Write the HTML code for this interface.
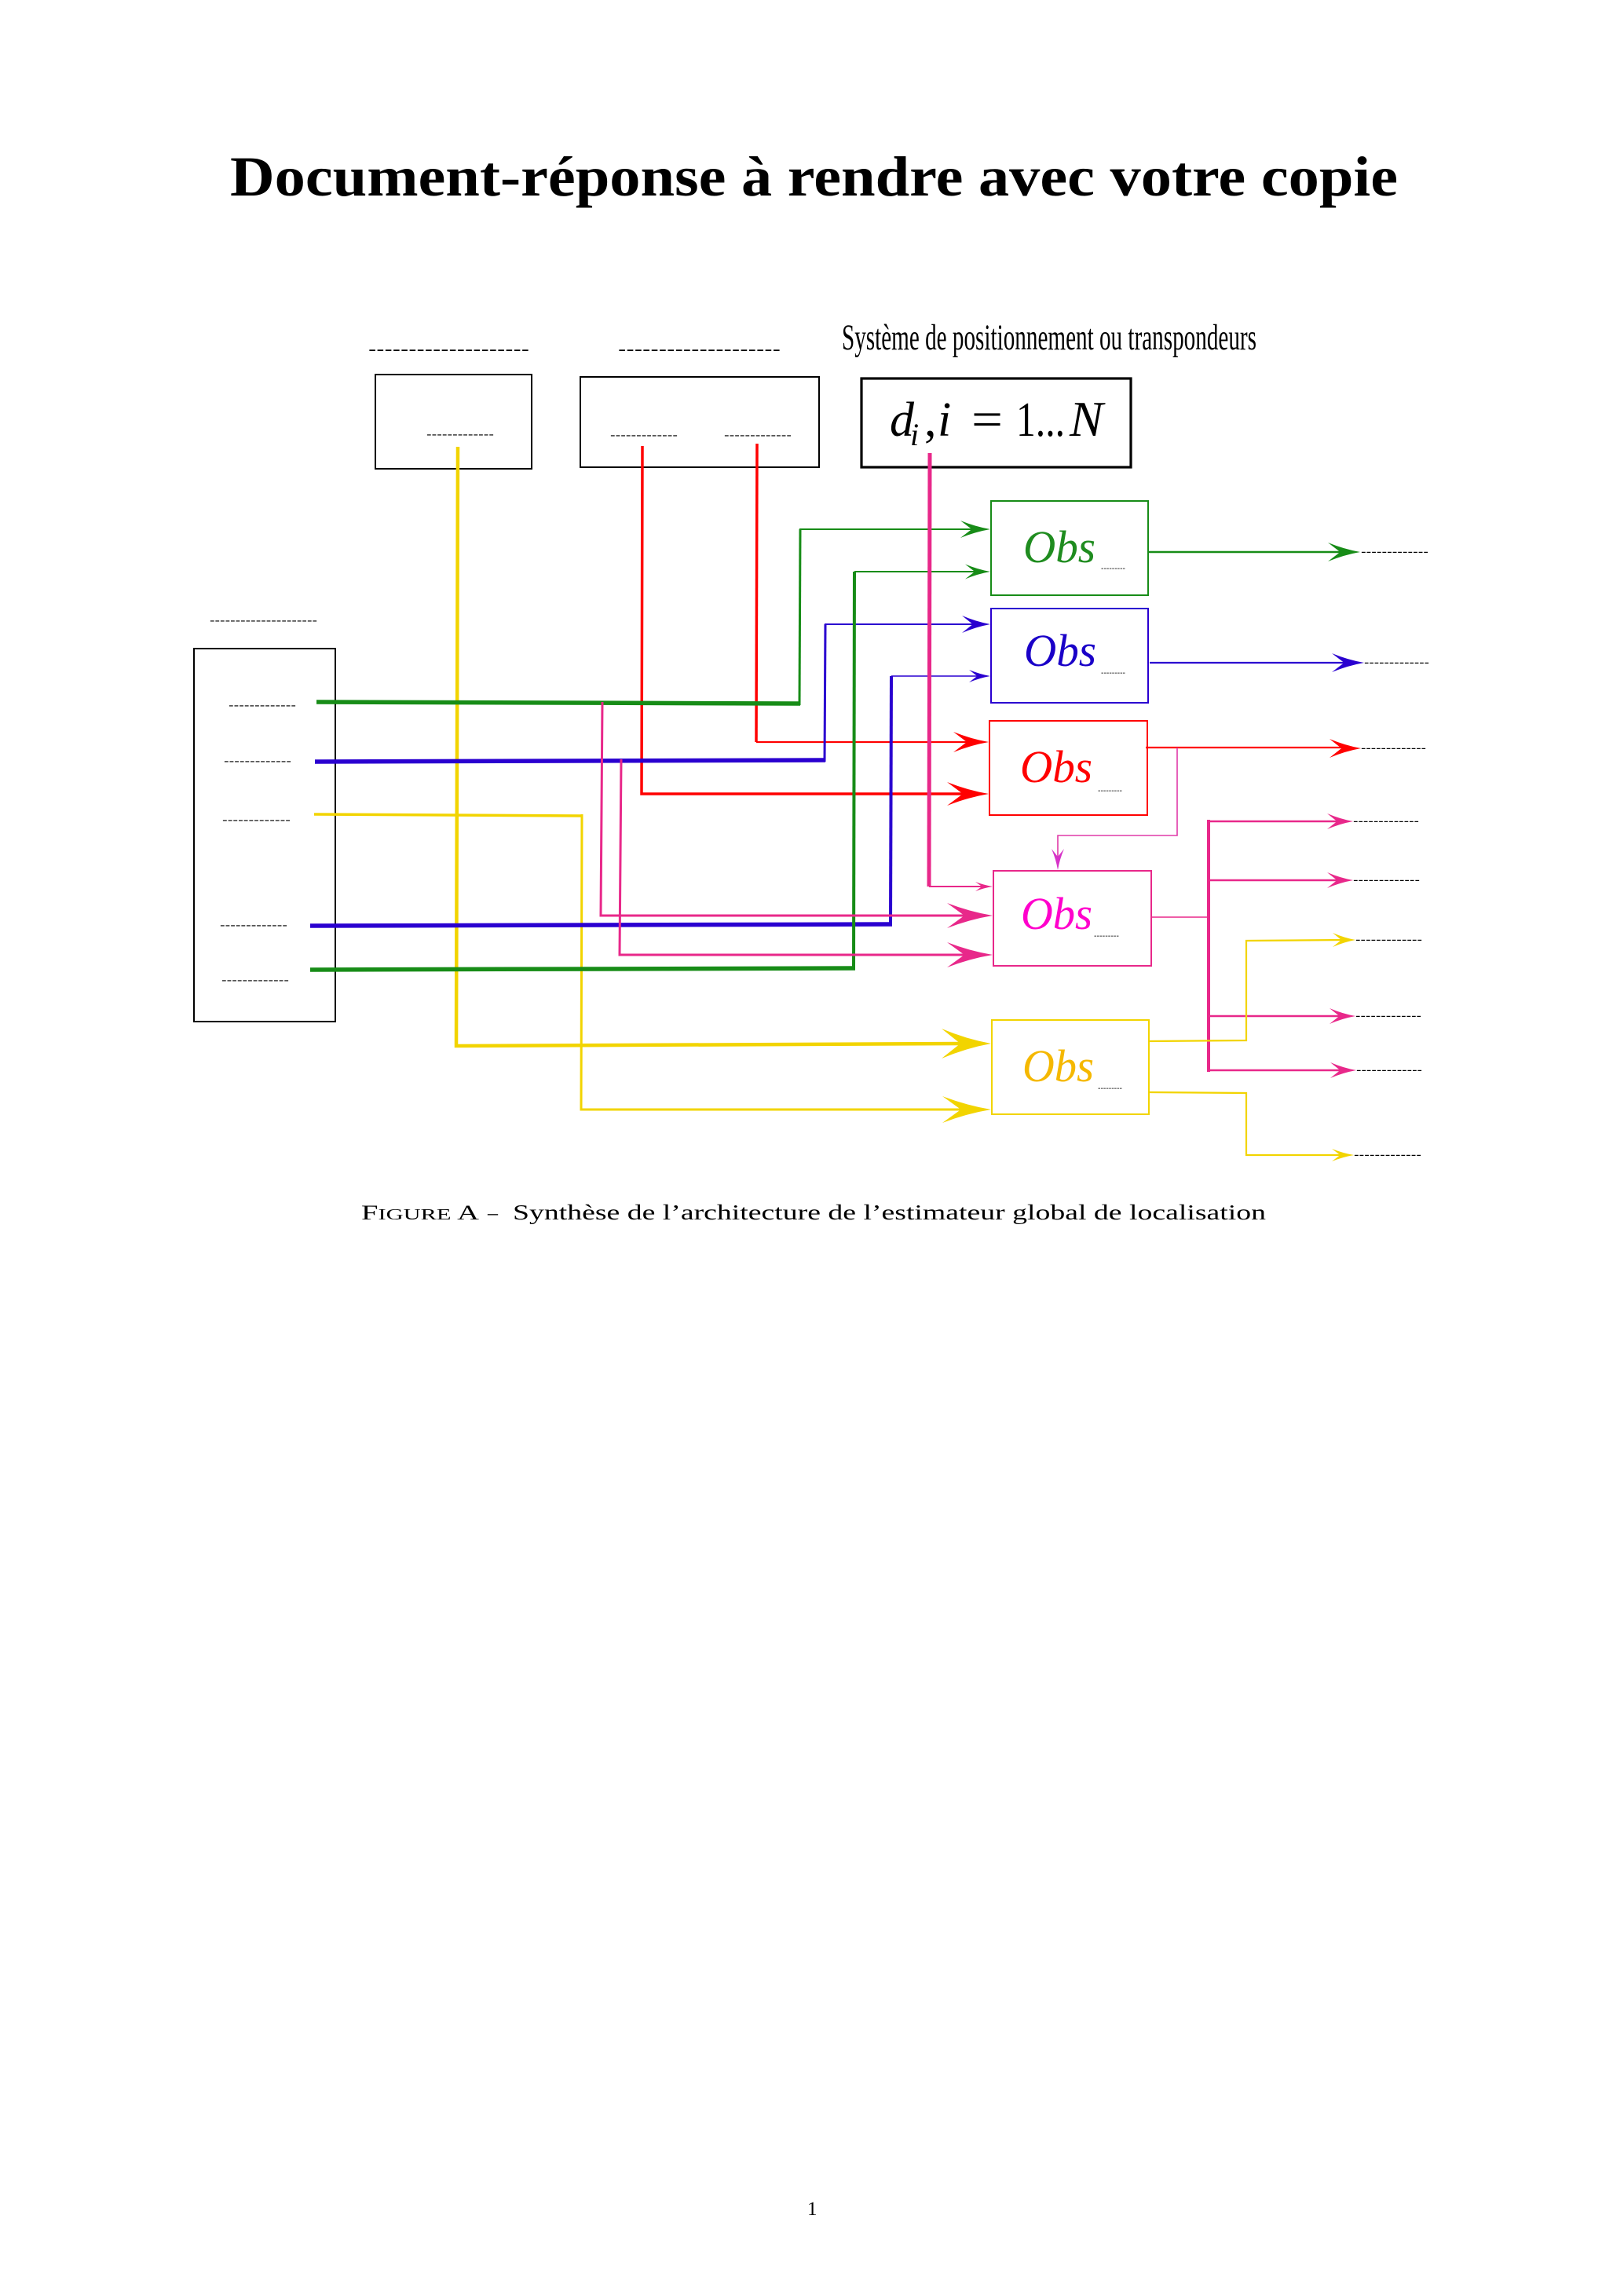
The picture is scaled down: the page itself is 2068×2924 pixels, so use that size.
<!DOCTYPE html>
<html>
<head>
<meta charset="utf-8">
<style>
  html, body { margin: 0; padding: 0; background: #fff; }
  svg { display: block; }
  .serif { font-family: "Liberation Serif", serif; }
  .dash { font-family: "Liberation Sans", sans-serif; fill: #000; }
</style>
</head>
<body>
<svg xmlns="http://www.w3.org/2000/svg" width="2068" height="2924" viewBox="0 0 2068 2924">
  <rect x="0" y="0" width="2068" height="2924" fill="#fff"/>

  <!-- Title -->
  <text class="serif" x="293" y="249" font-size="72" font-weight="bold" textLength="1487" lengthAdjust="spacingAndGlyphs">Document-réponse à rendre avec votre copie</text>

  <!-- Top labels -->
  <text class="dash" x="469" y="452" font-size="22" textLength="205" lengthAdjust="spacingAndGlyphs">--------------------</text>
  <text class="dash" x="787" y="452" font-size="22" textLength="207" lengthAdjust="spacingAndGlyphs">--------------------</text>
  <text class="serif" x="1072" y="445" font-size="47" textLength="528" lengthAdjust="spacingAndGlyphs">Système de positionnement ou transpondeurs</text>

  <!-- Top boxes -->
  <rect x="478" y="477" width="199" height="120" fill="none" stroke="#000" stroke-width="2"/>
  <text class="dash" x="543" y="558" font-size="15" textLength="86" lengthAdjust="spacingAndGlyphs">-------------</text>
  <rect x="739" y="480" width="304" height="115" fill="none" stroke="#000" stroke-width="2"/>
  <text class="dash" x="777" y="559" font-size="15" textLength="86" lengthAdjust="spacingAndGlyphs">-------------</text>
  <text class="dash" x="922" y="559" font-size="15" textLength="86" lengthAdjust="spacingAndGlyphs">-------------</text>
  <rect x="1097" y="482" width="343" height="113" fill="none" stroke="#000" stroke-width="3.2"/>
  <!-- math -->
  <text class="serif" x="1133" y="555" font-size="62" font-style="italic">d</text>
  <text class="serif" x="1159" y="567" font-size="40" font-style="italic">i</text>
  <text class="serif" x="1177" y="555" font-size="62">,</text>
  <text class="serif" x="1194" y="555" font-size="62" font-style="italic">i</text>
  <text class="serif" x="1237" y="555" font-size="62" textLength="40" lengthAdjust="spacingAndGlyphs">=</text>
  <text class="serif" x="1294" y="555" font-size="62" textLength="62" lengthAdjust="spacingAndGlyphs">1...</text>
  <text class="serif" x="1362" y="555" font-size="64" font-style="italic">N</text>

  <!-- Left box -->
  <text class="dash" x="267" y="795" font-size="15" textLength="137" lengthAdjust="spacingAndGlyphs">---------------------</text>
  <rect x="247" y="826" width="180" height="475" fill="none" stroke="#000" stroke-width="2"/>
  <text class="dash" x="291" y="903" font-size="15" textLength="86" lengthAdjust="spacingAndGlyphs">-------------</text>
  <text class="dash" x="285" y="974" font-size="15" textLength="86" lengthAdjust="spacingAndGlyphs">-------------</text>
  <text class="dash" x="283" y="1049" font-size="15" textLength="87" lengthAdjust="spacingAndGlyphs">-------------</text>
  <text class="dash" x="280" y="1183" font-size="15" textLength="86" lengthAdjust="spacingAndGlyphs">-------------</text>
  <text class="dash" x="282" y="1253" font-size="15" textLength="86" lengthAdjust="spacingAndGlyphs">-------------</text>

  <!-- Connectors -->
  <g fill="none" stroke-linejoin="miter" stroke-linecap="butt">
    <polyline points="583,569 581,1332 1225,1329" stroke="#f2d400" stroke-width="4.5"/>
    <polyline points="400,1037 741,1039" stroke="#f2d400" stroke-width="3.5"/>
    <polyline points="741,1037 740,1413 1225,1413" stroke="#f2d400" stroke-width="3"/>
    <polyline points="818,568 817,1011 1230,1011" stroke="#ff0000" stroke-width="3.5"/>
    <polyline points="964,565 963,945" stroke="#ff0000" stroke-width="3.5"/>
    <polyline points="963,945 1235,945" stroke="#ff0000" stroke-width="2.2"/>
    <polyline points="403,894 1019,896" stroke="#178c17" stroke-width="5.5"/>
    <polyline points="1018,898 1019,674" stroke="#178c17" stroke-width="3"/>
    <polyline points="1018,674 1240,674" stroke="#178c17" stroke-width="2"/>
    <polyline points="401,970 1051,968" stroke="#2a00d0" stroke-width="5.5"/>
    <polyline points="1050,970 1051,795" stroke="#2a00d0" stroke-width="3"/>
    <polyline points="1050,795 1240,795" stroke="#2a00d0" stroke-width="2"/>
    <polyline points="395,1179 1136,1177" stroke="#2a00d0" stroke-width="5.5"/>
    <polyline points="1134,1179 1135,861" stroke="#2a00d0" stroke-width="4"/>
    <polyline points="1135,861 1245,861" stroke="#2a00d0" stroke-width="1.6"/>
    <polyline points="395,1235 1089,1233" stroke="#178c17" stroke-width="5.5"/>
    <polyline points="1087,1235 1088,728" stroke="#178c17" stroke-width="4"/>
    <polyline points="1088,728 1245,728" stroke="#178c17" stroke-width="2"/>
    <polyline points="1184,577 1183,1129" stroke="#e8288a" stroke-width="5"/>
    <polyline points="1183,1129 1252,1129" stroke="#e8288a" stroke-width="2"/>
    <polyline points="767,894 765,1166 1232,1166" stroke="#e8288a" stroke-width="3"/>
    <polyline points="791,967 789,1216 1232,1216" stroke="#e8288a" stroke-width="3"/>

    <polyline points="1462,703 1712,703" stroke="#178c17" stroke-width="2.5"/>
    <polyline points="1464,844 1716,844" stroke="#2a00d0" stroke-width="2.2"/>
    <polyline points="1459,952 1712,952" stroke="#ff0000" stroke-width="2.2"/>
    <polyline points="1499,952 1499,1064 1347,1064 1347,1092" stroke="#e03aa8" stroke-width="1.6"/>
    <polyline points="1466,1168 1539,1168" stroke="#e8288a" stroke-width="1.6"/>
    <polyline points="1539,1044 1539,1365" stroke="#e8288a" stroke-width="4"/>
    <polyline points="1539,1046 1705,1046" stroke="#e8288a" stroke-width="2.5"/>
    <polyline points="1539,1121 1705,1121" stroke="#e8288a" stroke-width="2.5"/>
    <polyline points="1539,1294 1708,1294" stroke="#e8288a" stroke-width="2.5"/>
    <polyline points="1537,1363 1709,1363" stroke="#e8288a" stroke-width="2.5"/>
    <polyline points="1463,1326 1587,1325 1587,1198 1710,1197" stroke="#f2d400" stroke-width="2.2"/>
    <polyline points="1463,1391 1587,1392 1587,1471 1708,1471" stroke="#f2d400" stroke-width="2.2"/>
  </g>

  <!-- Arrowheads -->
  <g stroke="none">
    <path fill="#178c17" d="M1261 674 Q1242 670.7 1223 663 L1237.4 674 L1223 685 Q1242 677.3 1261 674Z"/>
    <path fill="#178c17" d="M1261 728 Q1245 725.2 1229 718.5 L1241.2 728 L1229 737.5 Q1245 730.8 1261 728Z"/>
    <path fill="#2a00d0" d="M1261 795 Q1243 791.7 1225 784 L1238.7 795 L1225 806 Q1243 798.3 1261 795Z"/>
    <path fill="#2a00d0" d="M1261 861 Q1247.5 858.6 1234 853 L1244.3 861 L1234 869 Q1247.5 863.4 1261 861Z"/>
    <path fill="#ff0000" d="M1259 945 Q1236.5 941.1 1214 932 L1231.1 945 L1214 958 Q1236.5 948.9 1259 945Z"/>
    <path fill="#ff0000" d="M1259 1011 Q1232.5 1006.5 1206 996 L1226.1 1011 L1206 1026 Q1232.5 1015.5 1259 1011Z"/>
    <path fill="#e8288a" d="M1264 1129 Q1253 1127.2 1242 1123 L1250.4 1129 L1242 1135 Q1253 1130.8 1264 1129Z"/>
    <path fill="#e8288a" d="M1264 1166 Q1235 1161.2 1206 1150 L1228 1166 L1206 1182 Q1235 1170.8 1264 1166Z"/>
    <path fill="#e8288a" d="M1264 1216 Q1235 1211.2 1206 1200 L1228 1216 L1206 1232 Q1235 1220.8 1264 1216Z"/>
    <path fill="#f2d400" d="M1262 1329 Q1230.5 1323.3 1199 1310 L1222.9 1329 L1199 1348 Q1230.5 1334.7 1262 1329Z"/>
    <path fill="#f2d400" d="M1262 1413 Q1231 1407.9 1200 1396 L1223.6 1413 L1200 1430 Q1231 1418.1 1262 1413Z"/>

    <path fill="#178c17" d="M1732 703 Q1711.5 699.4 1691 691 L1706.6 703 L1691 715 Q1711.5 706.6 1732 703Z"/>
    <path fill="#2a00d0" d="M1737 844 Q1716.5 840.4 1696 832 L1711.6 844 L1696 856 Q1716.5 847.6 1737 844Z"/>
    <path fill="#ff0000" d="M1733 953 Q1713 949.4 1693 941 L1708.2 953 L1693 965 Q1713 956.6 1733 953Z"/>
    <path fill="#e8288a" d="M1723 1046 Q1706.5 1043 1690 1036 L1702.5 1046 L1690 1056 Q1706.5 1049 1723 1046Z"/>
    <path fill="#e8288a" d="M1723 1121 Q1706.5 1118 1690 1111 L1702.5 1121 L1690 1131 Q1706.5 1124 1723 1121Z"/>
    <path fill="#f2d400" d="M1726 1197 Q1711.5 1194.3 1697 1188 L1708 1197 L1697 1206 Q1711.5 1199.7 1726 1197Z"/>
    <path fill="#e8288a" d="M1726 1294 Q1709.5 1291 1693 1284 L1705.5 1294 L1693 1304 Q1709.5 1297 1726 1294Z"/>
    <path fill="#e8288a" d="M1727 1363 Q1710.5 1360 1694 1353 L1706.5 1363 L1694 1373 Q1710.5 1366 1727 1363Z"/>
    <path fill="#f2d400" d="M1724 1471 Q1710 1468.6 1696 1463 L1706.6 1471 L1696 1479 Q1710 1473.4 1724 1471Z"/>

    <path fill="#d633c8" d="M1347 1108 Q1344.6 1094 1339 1081 L1347 1091 L1355 1081 Q1349.4 1094 1347 1108Z"/>
  </g>

  <!-- Obs boxes -->
  <rect x="1262" y="638" width="200" height="120" fill="none" stroke="#178c17" stroke-width="2"/>
  <text class="serif" x="1303" y="716" font-size="58" font-style="italic" fill="#1f8c1f" textLength="92" lengthAdjust="spacingAndGlyphs">Obs</text>
  <text class="dash" x="1402" y="727" font-size="10" textLength="31" lengthAdjust="spacingAndGlyphs">---------</text>

  <rect x="1262" y="775" width="200" height="120" fill="none" stroke="#2a00d0" stroke-width="2"/>
  <text class="serif" x="1304" y="848" font-size="58" font-style="italic" fill="#1a00c8" textLength="92" lengthAdjust="spacingAndGlyphs">Obs</text>
  <text class="dash" x="1402" y="860" font-size="10" textLength="31" lengthAdjust="spacingAndGlyphs">---------</text>

  <rect x="1260" y="918" width="201" height="120" fill="none" stroke="#ff0000" stroke-width="2"/>
  <text class="serif" x="1299" y="996" font-size="58" font-style="italic" fill="#ff0000" textLength="92" lengthAdjust="spacingAndGlyphs">Obs</text>
  <text class="dash" x="1398" y="1010" font-size="10" textLength="31" lengthAdjust="spacingAndGlyphs">---------</text>

  <rect x="1265" y="1109" width="201" height="121" fill="none" stroke="#e8288a" stroke-width="2"/>
  <text class="serif" x="1300" y="1183" font-size="58" font-style="italic" fill="#ff00cc" textLength="91" lengthAdjust="spacingAndGlyphs">Obs</text>
  <text class="dash" x="1393" y="1195" font-size="10" textLength="32" lengthAdjust="spacingAndGlyphs">---------</text>

  <rect x="1263" y="1299" width="200" height="120" fill="none" stroke="#f2d400" stroke-width="2"/>
  <text class="serif" x="1302" y="1377" font-size="58" font-style="italic" fill="#f5b800" textLength="91" lengthAdjust="spacingAndGlyphs">Obs</text>
  <text class="dash" x="1398" y="1389" font-size="10" textLength="31" lengthAdjust="spacingAndGlyphs">---------</text>

  <!-- Right output labels -->
  <text class="dash" x="1733" y="707.5" font-size="16" textLength="86" lengthAdjust="spacingAndGlyphs">-------------</text>
  <text class="dash" x="1737" y="848.5" font-size="16" textLength="83" lengthAdjust="spacingAndGlyphs">-------------</text>
  <text class="dash" x="1733" y="957.5" font-size="16" textLength="83" lengthAdjust="spacingAndGlyphs">-------------</text>
  <text class="dash" x="1723" y="1050.5" font-size="16" textLength="84" lengthAdjust="spacingAndGlyphs">-------------</text>
  <text class="dash" x="1723" y="1125.5" font-size="16" textLength="85" lengthAdjust="spacingAndGlyphs">-------------</text>
  <text class="dash" x="1726" y="1201.5" font-size="16" textLength="85" lengthAdjust="spacingAndGlyphs">-------------</text>
  <text class="dash" x="1726" y="1298.5" font-size="16" textLength="84" lengthAdjust="spacingAndGlyphs">-------------</text>
  <text class="dash" x="1727" y="1367.5" font-size="16" textLength="84" lengthAdjust="spacingAndGlyphs">-------------</text>
  <text class="dash" x="1724" y="1475.5" font-size="16" textLength="86" lengthAdjust="spacingAndGlyphs">-------------</text>

  <!-- Caption -->
  <text class="serif" x="460" y="1553" font-size="26" textLength="150" lengthAdjust="spacingAndGlyphs">F<tspan font-size="20.5">IGURE</tspan> A</text>
  <text class="serif" x="621" y="1553" font-size="26">–</text>
  <text class="serif" x="653" y="1553" font-size="27" textLength="959" lengthAdjust="spacingAndGlyphs">Synthèse de l’architecture de l’estimateur global de localisation</text>

  <!-- Page number -->
  <text class="serif" x="1028" y="2821" font-size="25">1</text>
</svg>
</body>
</html>
